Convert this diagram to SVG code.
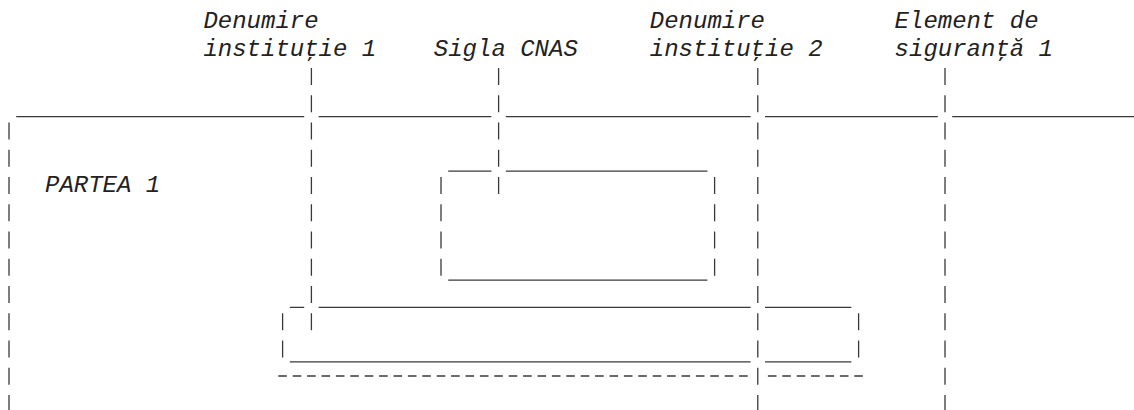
<svg xmlns="http://www.w3.org/2000/svg" width="1134" height="410" viewBox="0 0 1134 410">
<style>
text{font-family:"Liberation Mono","Courier New",monospace;font-size:24px;font-style:italic;fill:#222}
.bar{stroke:#3a3a3a;stroke-width:1.3;stroke-dasharray:17 10.25;fill:none}
.us{stroke:#3a3a3a;stroke-width:1.3;fill:none}
.dash{stroke:#3a3a3a;stroke-width:1.3;stroke-dasharray:8.6 5.8;fill:none}
</style>
<rect width="1134" height="410" fill="#fff"/>
<g id="connectors">
<line class="bar" x1="9" y1="122.5" x2="9" y2="412"/>
<line class="bar" x1="282.6" y1="313.25" x2="282.6" y2="357.5"/>
<line class="bar" x1="311.4" y1="68" x2="311.4" y2="330.25"/>
<line class="bar" x1="441" y1="177" x2="441" y2="275.75"/>
<line class="bar" x1="498.6" y1="68" x2="498.6" y2="194"/>
<line class="bar" x1="714.6" y1="177" x2="714.6" y2="275.75"/>
<line class="bar" x1="757.8" y1="68" x2="757.8" y2="412"/>
<line class="bar" x1="858.6" y1="313.25" x2="858.6" y2="357.5"/>
<line class="bar" x1="945" y1="68" x2="945" y2="412"/>
<path class="us" d="M16.2 116.7H304.2M318.6 116.7H491.4M505.8 116.7H750.6M765 116.7H937.8M952.2 116.7H1134"/>
<path class="us" d="M448.2 171.2H491.4M505.8 171.2H707.4"/>
<path class="us" d="M448.2 280.2H707.4"/>
<path class="us" d="M289.8 307.45H304.2M318.6 307.45H750.6M765 307.45H851.4"/>
<path class="us" d="M289.8 361.95H750.6M765 361.95H851.4"/>
<line class="dash" x1="278.3" y1="376" x2="747.7" y2="376"/>
<line class="dash" x1="767.9" y1="376" x2="862.9" y2="376"/>
</g>
<g id="denumire-institutie-1"><text x="203.4" y="28.4">Denumire</text><text x="203.4" y="55.6">instituţie 1</text></g>
<g id="sigla-cnas"><text x="433.8" y="55.6">Sigla CNAS</text></g>
<g id="denumire-institutie-2"><text x="649.8" y="28.4">Denumire</text><text x="649.8" y="55.6">instituţie 2</text></g>
<g id="element-siguranta-1"><text x="894.6" y="28.4">Element de</text><text x="894.6" y="55.6">siguranţă 1</text></g>
<g id="partea-1"><text x="45" y="191.8">PARTEA 1</text></g>
</svg>
